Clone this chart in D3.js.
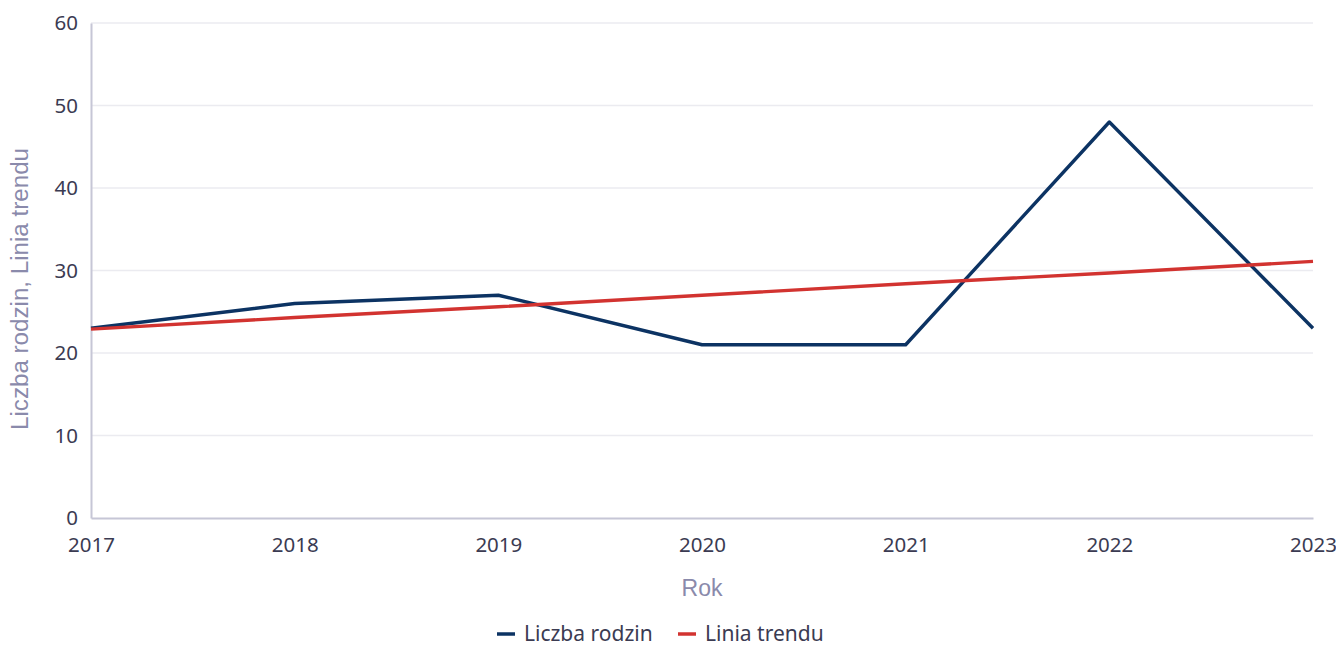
<!DOCTYPE html>
<html lang="pl">
<head>
<meta charset="UTF-8">
<title>Liczba rodzin</title>
<script src="https://d3js.org/d3.v7.min.js"></script>
<style>
  body { margin: 0; background: #fff; }
  svg { display: block; }
  .tick text { font-family: "Noto Sans", sans-serif; font-size: 20.5px; fill: #3b3b52; }
</style>
</head>
<body>
<svg width="1336" height="645"></svg>
<script>
    var years = [2017, 2018, 2019, 2020, 2021, 2022, 2023];
    var liczbaRodzin = [23, 26, 27, 21, 21, 48, 23];
    var liniaTrendu = [22.9, 24.3, 25.6, 27.0, 28.4, 29.7, 31.1];
    var yTicks = [0, 10, 20, 30, 40, 50, 60];

    var svg = d3.select("svg");
    var margin = {left: 91, right: 23, top: 23, bottom: 127};
    var width = 1336 - margin.left - margin.right,
        height = 645 - margin.top - margin.bottom;

    var g = svg.append("g").attr("transform", "translate(" + margin.left + "," + margin.top + ")");

    var x = d3.scaleLinear().domain([2017, 2023]).range([0, width]);
    var y = d3.scaleLinear().domain([0, 60]).range([height, 0]);

    // grid
    g.append("g").selectAll("line")
        .data(yTicks.slice(1))
        .enter().append("line")
        .attr("x1", 0).attr("x2", width)
        .attr("y1", function (d) { return y(d); })
        .attr("y2", function (d) { return y(d); })
        .attr("stroke", "#ebebf0").attr("stroke-width", 1.5);

    var yAxis = g.append("g")
        .call(d3.axisLeft(y).tickValues(yTicks).tickSize(0).tickPadding(13));
    yAxis.select(".domain").attr("stroke", "#c6c6d6").attr("stroke-width", 2);

    var xAxis = g.append("g")
        .attr("transform", "translate(0," + height + ")")
        .call(d3.axisBottom(x).tickValues(years).tickFormat(d3.format("d")).tickSize(0).tickPadding(19));
    xAxis.select(".domain").attr("stroke", "#c6c6d6").attr("stroke-width", 2);

    var line = d3.line()
        .x(function (d, i) { return x(years[i]); })
        .y(function (d) { return y(d); });

    g.append("path").datum(liczbaRodzin)
        .attr("fill", "none").attr("stroke", "#0c3363").attr("stroke-width", 3.4)
        .attr("stroke-linejoin", "round")
        .attr("d", line);

    g.append("path").datum(liniaTrendu)
        .attr("fill", "none").attr("stroke", "#d23330").attr("stroke-width", 3.4)
        .attr("d", line);

    // axis titles
    svg.append("text")
        .attr("transform", "translate(28,289) rotate(-90)")
        .attr("text-anchor", "middle")
        .attr("textLength", 282).attr("lengthAdjust", "spacingAndGlyphs")
        .style("font-family", "Liberation Sans, Arial, sans-serif")
        .style("font-size", "23px").style("fill", "#8a8aab")
        .text("Liczba rodzin, Linia trendu");

    svg.append("text")
        .attr("x", margin.left + width / 2).attr("y", 596)
        .attr("text-anchor", "middle")
        .style("font-family", "Liberation Sans, Arial, sans-serif")
        .style("font-size", "23px").style("fill", "#8a8aab")
        .text("Rok");

    // legend
    var legendItems = [
        {name: "Liczba rodzin", color: "#0c3363", x: 497},
        {name: "Linia trendu", color: "#d23330", x: 678}
    ];
    var legend = svg.append("g").selectAll("g")
        .data(legendItems)
        .enter().append("g")
        .attr("transform", function (d) { return "translate(" + d.x + ",634)"; });
    legend.append("line")
        .attr("x1", 0).attr("x2", 18).attr("y1", 0).attr("y2", 0)
        .attr("stroke", function (d) { return d.color; }).attr("stroke-width", 3.5);
    legend.append("text")
        .attr("x", 27).attr("y", 0).attr("dy", "0.35em")
        .style("font-family", "Noto Sans, sans-serif")
        .style("font-size", "21px").style("fill", "#3b3b52")
        .text(function (d) { return d.name; });
</script>
</body>
</html>
